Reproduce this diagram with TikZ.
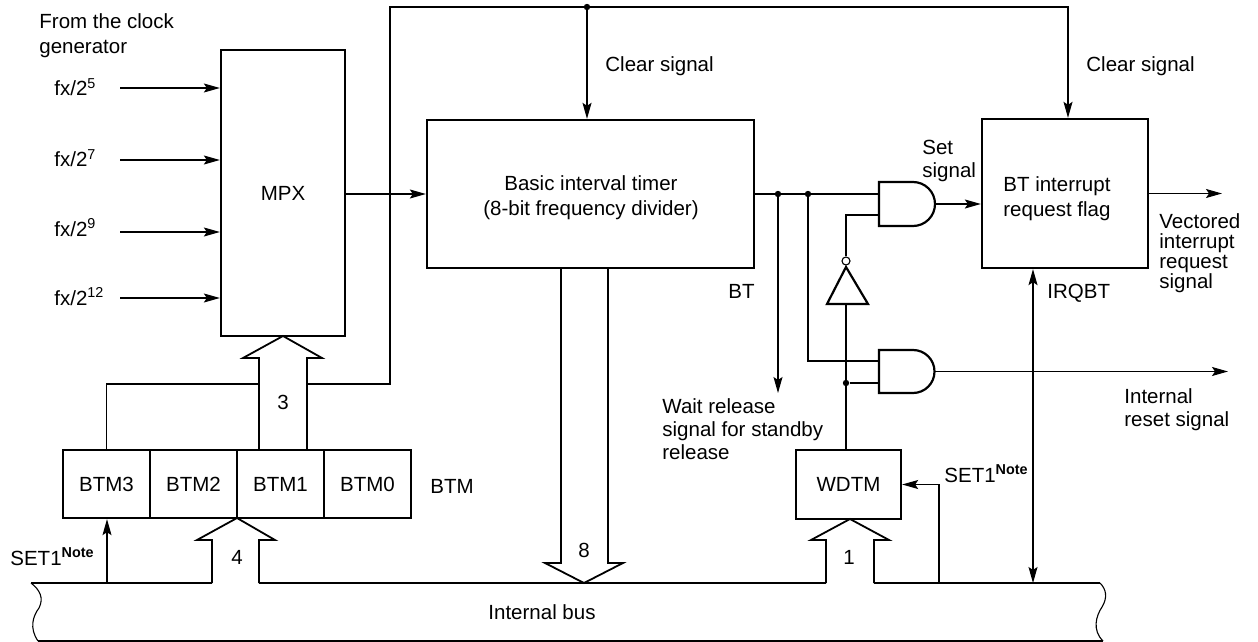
\documentclass[tikz,border=0pt]{standalone}
\usepackage{fontspec}
\setmainfont{Liberation Sans}
\usetikzlibrary{arrows.meta}
\begin{document}
\begin{tikzpicture}[x=0.5pt,y=-0.5pt,
  box/.style={draw,line width=1.15pt,inner sep=0pt,font=\fontsize{10.25}{12.5}\selectfont},
  wire/.style={line width=0.55pt},
  sig/.style={wire,-{Stealth[length=8pt,width=4.5pt,inset=1.5pt]}},
  dsig/.style={wire,{Stealth[length=8pt,width=4.5pt,inset=1.5pt]}-{Stealth[length=8pt,width=4.5pt,inset=1.5pt]}},
  fat/.style={line width=0.9pt,line join=miter},
  gate/.style={line width=1.1pt},
  txt/.style={inner sep=0pt,font=\fontsize{10.25}{11.5}\selectfont},
  dot/.style={circle,fill,inner sep=0pt,minimum size=3.2pt}]
\useasboundingbox (0,0) rectangle (1258,642);

% ---------- boxes ----------
\node[box,minimum width=62pt,minimum height=143pt] (mpx) at (283,193) {MPX};
\node[box,minimum width=163.5pt,minimum height=74pt] (bt) at (590.5,194) {};
\node[txt,align=center,anchor=north,font=\fontsize{10.25}{12.5}\selectfont] (bttxt) at (591,175) {Basic interval timer\\(8-bit frequency divider)};
\node[box,minimum width=83pt,minimum height=74.5pt] (flag) at (1065,193.5) {};
\node[txt,align=left,anchor=north west,font=\fontsize{10.25}{12.5}\selectfont] (flagtxt) at (1003,176) {BT interrupt\\request flag};
\node[box,minimum width=43.5pt,minimum height=34pt] (btm3) at (106.5,484) {BTM3};
\node[box,minimum width=43.5pt,minimum height=34pt] (btm2) at (193.5,484) {BTM2};
\node[box,minimum width=43.5pt,minimum height=34pt] (btm1) at (280.5,484) {BTM1};
\node[box,minimum width=43.5pt,minimum height=34pt] (btm0) at (367.5,484) {BTM0};
\node[box,minimum width=52.5pt,minimum height=34.5pt] (wdtm) at (848.5,484.5) {WDTM};

% ---------- clock inputs ----------
\coordinate (in5) at (120,88);
\coordinate (in7) at (120,160);
\coordinate (in9) at (120,232);
\coordinate (in12) at (120,298);
\draw[sig] (in5) -- (in5 -| mpx.west);
\draw[sig] (in7) -- (in7 -| mpx.west);
\draw[sig] (in9) -- (in9 -| mpx.west);
\draw[sig] (in12) -- (in12 -| mpx.west);
\draw[sig] (mpx.east |- bt.west) -- (bt.west);

% ---------- clear loop ----------
\coordinate (loopB) at (390,384);
\coordinate (loopC) at (390,7);
\coordinate (clr1) at (587,7);
\coordinate (clr2) at (1068,7);
\draw[sig] (btm3.north) |- (loopB) -- (loopC) -- (clr2) -- (clr2 |- flag.north);
\draw[sig] (clr1) -- (clr1 |- bt.north);
\node[dot] (d1) at (clr1) {};

% ---------- gates ----------
\coordinate (g1a) at (879,194);
\coordinate (g1b) at (879,215);
\coordinate (g1o) at (935,204);
\coordinate (g2a) at (879,361);
\coordinate (g2b) at (879,383);
\coordinate (g2o) at (935,371.5);
\draw[gate] (879,182) -- (913,182) arc[start angle=-90,end angle=90,radius=22] -- (879,226) -- cycle;
\draw[gate] (879,350) -- (913,350) arc[start angle=-90,end angle=90,radius=21.5] -- (879,393) -- cycle;

% inverter
\draw[gate] (827,304) -- (868,304) -- (846,267) -- cycle;
\node[circle,draw,wire,fill=white,inner sep=0pt,minimum size=4pt] (bub) at (846,261) {};
\coordinate (invbase) at (846,304);

% ---------- BT output wiring ----------
\coordinate (j1) at (778,194);
\coordinate (j2) at (808,194);
\coordinate (wait) at (778,393);
\draw[wire] (bt.east |- g1a) -- (g1a);
\node[dot] (d2) at (j1) {};
\node[dot] (d3) at (j2) {};
\draw[sig] (j1) -- (wait);
\draw[wire] (j2) |- (g2a);
\draw[sig] (g1o) -- (g1o -| flag.west);
\draw[wire] (bub.north) |- (g1b);
\draw[wire] (invbase) -- (invbase |- wdtm.north);
\node[dot] (d4) at (846,383) {};
\draw[wire] (d4) -- (g2b);
\coordinate (rst) at (1228,371.5);
\draw[sig] (g2o) -- (rst);
\coordinate (vec) at (1222,194);
\draw[sig] (flag.east) -- (vec |- flag.east);

% ---------- bus connections ----------
\coordinate (irq) at (1033,583);
\draw[dsig] (irq |- flag.south) -- (irq);
\coordinate (s1) at (107,583);
\draw[sig] (s1) -- (s1 |- btm3.south);
\coordinate (s2) at (939,583);
\draw[sig] (s2) |- (wdtm.east);

% ---------- fat arrows ----------
\fill[white] (259,448.5) -- (259,358) -- (243,358) -- (283,336) -- (322,358) -- (307,358) -- (307,448.5) -- cycle;
\draw[fat] (259,450) -- (259,358) -- (243,358) -- (283,336) -- (322,358) -- (307,358) -- (307,450);
\fill[white] (561,269.5) -- (561,563) -- (545,563) -- (584,583) -- (623,563) -- (608,563) -- (608,269.5) -- cycle;
\draw[fat] (561,268) -- (561,563) -- (545,563) -- (584,583) -- (623,563) -- (608,563) -- (608,268);
\fill[white] (212,583) -- (212,540) -- (197,540) -- (237,518) -- (275,540) -- (259,540) -- (259,583) -- cycle;
\draw[fat] (212,583) -- (212,540) -- (197,540) -- (237,518) -- (275,540) -- (259,540) -- (259,583);
\fill[white] (826,583) -- (826,540) -- (811,540) -- (850,519) -- (889,540) -- (874,540) -- (874,583) -- cycle;
\draw[fat] (826,583) -- (826,540) -- (811,540) -- (850,519) -- (889,540) -- (874,540) -- (874,583);

% ---------- internal bus ----------
\draw[wire] (31,583) -- (212,583);
\draw[wire] (259,583) -- (826,583);
\draw[wire] (874,583) -- (1100,583);
\draw[wire] (31,583) .. controls (40,590) and (44,598) .. (39,608) .. controls (33,616) and (29,628) .. (38,641);
\draw[wire] (1100,583) .. controls (1106,589) and (1108,597) .. (1102,607) .. controls (1096,616) and (1092,630) .. (1103,641);
\draw[wire] (38,641) -- (1103,641);

% ---------- labels ----------
\node[txt,align=left,anchor=north west,font=\fontsize{10.25}{12.5}\selectfont] (src) at (39,13) {From the clock\\generator};
\node[txt,anchor=base west] (l5) at (54,96) {fx/2\textsuperscript{5}};
\node[txt,anchor=base west] (l7) at (54,167) {fx/2\textsuperscript{7}};
\node[txt,anchor=base west] (l9) at (54,236) {fx/2\textsuperscript{9}};
\node[txt,anchor=base west] (l12) at (54,305) {fx/2\textsuperscript{12}};
\node[txt,anchor=base west] (clrl1) at (605,71.5) {Clear signal};
\node[txt,anchor=base west] (clrl2) at (1086,71.5) {Clear signal};
\node[txt,anchor=base west] (btl) at (728,298) {BT};
\node[txt,anchor=base west] (irql) at (1047,298) {IRQBT};
\node[txt,align=left,anchor=north west] (setl) at (922,140) {Set\\signal};
\node[txt,align=left,anchor=north west,font=\fontsize{10.25}{10}\selectfont] (vecl) at (1159,213) {Vectored\\interrupt\\request\\signal};
\node[txt,align=left,anchor=north west] (waitl) at (662,398) {Wait release\\signal for standby\\release};
\node[txt,align=left,anchor=north west] (rstl) at (1124,388) {Internal\\reset signal};
\node[txt,anchor=base west] (btml) at (430,493) {BTM};
\node[txt,anchor=base] (n3) at (283,409) {3};
\node[txt,anchor=base] (n4) at (237,564) {4};
\node[txt,anchor=base] (n8) at (584,557) {8};
\node[txt,anchor=base] (n1) at (849,564) {1};
\node[txt,anchor=base west] (set1a) at (10,565) {SET1\textsuperscript{\bfseries Note}};
\node[txt,anchor=base west] (set1b) at (944,482) {SET1\textsuperscript{\bfseries Note}};
\node[txt,anchor=base] (busl) at (542,619) {Internal bus};
\end{tikzpicture}
\end{document}
